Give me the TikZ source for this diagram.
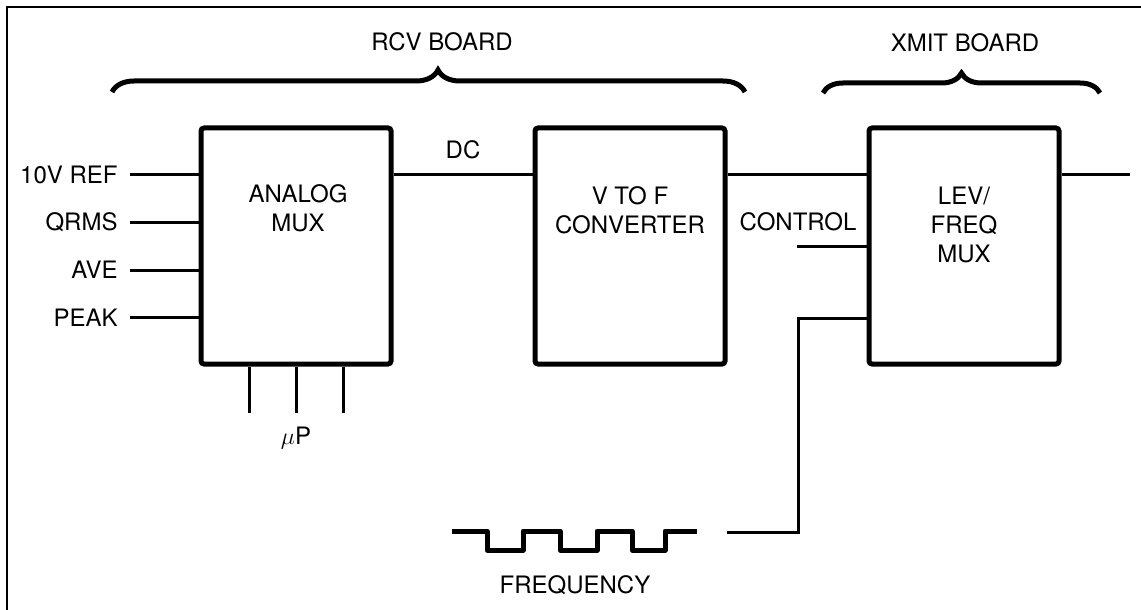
\documentclass[tikz,border=0pt]{standalone}
\usepackage{fontspec}
\setmainfont{TeX Gyre Heros}
\usetikzlibrary{positioning,decorations.pathreplacing}

\begin{document}
\begin{tikzpicture}[
	x=0.5pt, y=-0.5pt,
	font=\fontsize{12}{14.5}\selectfont,
	block/.style={ draw, line width=2.5pt, rounded corners=1.5pt, inner sep=0pt, minimum width=95pt, minimum height=118pt },
	blocktext/.style={ align=center },
	wire/.style={ line width=1.5pt },
	terminal/.style={ inner sep=0pt, minimum size=0pt },
	wave/.style={ line width=2.5pt, line join=round },
	board/.style={ decorate, decoration={brace, amplitude=#1}, line width=2.5pt }
]
\useasboundingbox (0,0) rectangle (1141,610);

% frame
\draw[line width=1pt] (7,620) -- (7,7) -- (1150,7);

% boards
\coordinate (rcvl) at (112,92);
\coordinate (rcvr) at (745,92);
\draw[board=11pt, decoration={aspect=0.515}] (rcvl) -- (rcvr);
\node (rcvlabel) at (442,42) {RCV BOARD};
\coordinate (xmitl) at (823,93);
\coordinate (xmitr) at (1100,93);
\draw[board=10pt] (xmitl) -- (xmitr);
\node (xmitlabel) at (965,43) {XMIT BOARD};

% blocks
\node (mux) at (296,246) [block] {};
\node (muxtext) at (298,208) [blocktext] {ANALOG\\MUX};
\node (vtof) at (630,246) [block] {};
\node (vtoftext) at (630,210) [blocktext] {V TO F\\CONVERTER};
\node (lev) at (964,246) [block] {};
\node (levtext) at (964,225) [blocktext] {LEV/\\FREQ\\MUX};

% inputs
\foreach \txt/\y [count=\i] in {10V REF/175, QRMS/222.5, AVE/270, PEAK/317.5} {
	\node (in\i) at (130,\y) [terminal, label={[label distance=2.5pt]left:\txt}] {};
	\draw[wire] (in\i) -- (in\i -| mux.west);
}

% microprocessor lines
\foreach \x [count=\i] in {249,296,343} {
	\coordinate (up\i) at (\x,413);
	\draw[wire] (up\i |- mux.south) -- (up\i);
}
\node (uplabel) at (296,438) {$\mu$P};

% signal path
\draw[wire] (in1 -| mux.east) -- node[above=4pt] (dclabel) {DC} (in1 -| vtof.west);
\draw[wire] (in1 -| vtof.east) -- (in1 -| lev.west);
\coordinate (out) at (1130,175);
\draw[wire] (in1 -| lev.east) -- (out);

% control
\coordinate (ctrl) at (797,246);
\draw[wire] (ctrl) -- (lev.west);
\node (ctrllabel) at (798,222) {CONTROL};

% frequency
\coordinate (freqin) at (727,532);
\coordinate (freqbend) at (798,318);
\draw[wire] (freqin) -| (freqbend) -- (freqbend -| lev.west);
\draw[wave] (452,531) -- (487,531) -- (487,550) -- (523,550) -- (523,531)
	-- (560,531) -- (560,550) -- (597,550) -- (597,531) -- (632,531)
	-- (632,550) -- (665,550) -- (665,531) -- (697,531);
\node (freqlabel) at (575,585) {FREQUENCY};

\end{tikzpicture}
\end{document}
